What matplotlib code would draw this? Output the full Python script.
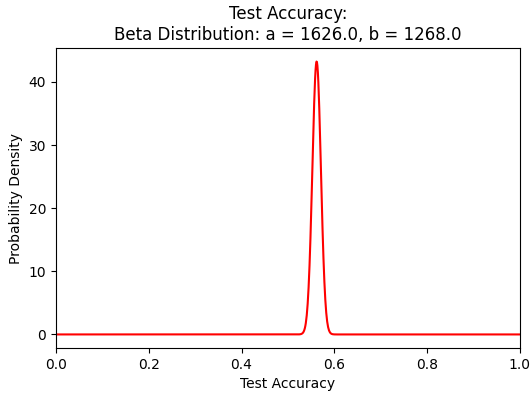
import math
import numpy as np
import matplotlib
matplotlib.use("Agg")
import matplotlib.pyplot as plt

# Distribution parameters (from the title)
a_param = 1626.0
b_param = 1268.0
title_text = "Test Accuracy:\nBeta Distribution: a = 1626.0, b = 1268.0"
x_label = "Test Accuracy"
y_label = "Probability Density"

x = np.linspace(0, 1, 1000)
log_beta = math.lgamma(a_param) + math.lgamma(b_param) - math.lgamma(a_param + b_param)
with np.errstate(divide="ignore"):
    logpdf = (a_param - 1) * np.log(x) + (b_param - 1) * np.log1p(-x) - log_beta
pdf = np.exp(logpdf)
pdf = np.nan_to_num(pdf)

fig = plt.figure(figsize=(5.31, 3.96), dpi=100)
ax = fig.add_axes([0.1055, 0.121, 0.8735, 0.758])
ax.plot(x, pdf, color="red", linewidth=1.5)
ax.set_xlim(0, 1)
ax.set_title(title_text, fontsize=12)
ax.set_xlabel(x_label, fontsize=10)
ax.set_ylabel(y_label, fontsize=10)
ax.tick_params(labelsize=10)
fig.savefig("out.png", dpi=100)
